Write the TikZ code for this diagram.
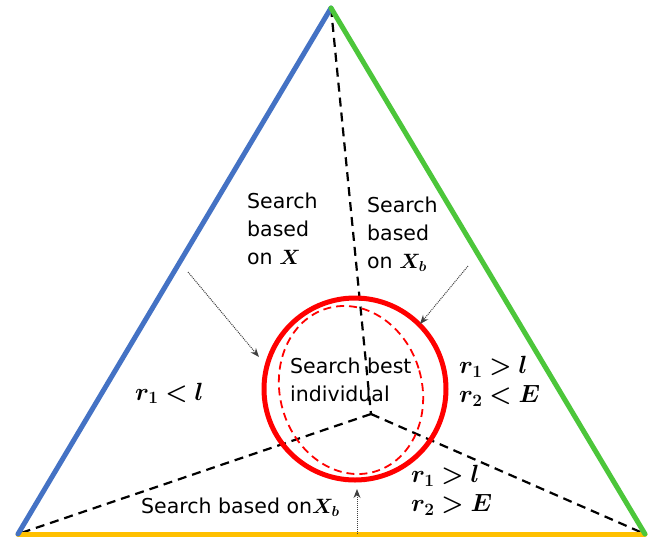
\documentclass[tikz,border=0pt]{standalone}
\usepackage{fontspec}
\usepackage{bm}
\setmainfont{Open Sans}
\newfontfamily\labfont{DejaVu Sans}
\usetikzlibrary{arrows.meta}
\definecolor{triblue}{HTML}{4472C4}
\definecolor{trigreen}{HTML}{4CC63A}
\definecolor{triyellow}{HTML}{FFC000}
\definecolor{cred}{HTML}{FF0000}
\tikzset{
  side/.style={line width=5pt, line cap=round},
  divider/.style={line width=2.2pt, dash pattern=on 9pt off 6pt},
  pointer/.style={line width=1pt, densely dotted, black!75, -{Stealth[length=9pt,width=7pt]}},
  lab/.style={font=\labfont\fontsize{20.5}{28}\selectfont, inner sep=0pt, align=left},
  mlab/.style={font=\fontsize{23}{29}\selectfont, inner sep=0pt, align=left},
}
\begin{document}
\begin{tikzpicture}[x=1pt,y=-1pt]
\useasboundingbox (0,0) rectangle (654,539);
% vertices
\coordinate (T) at (331,8);
\coordinate (BL) at (18,534);
\coordinate (BR) at (645,534);
\coordinate (C) at (371,414);
% dashed dividers
\draw[divider] (T) -- (C);
\draw[divider] (C) -- (BL);
\draw[divider] (C) -- (BR);
% circles
\draw[cred, line width=5pt] (355,389) circle[radius=91];
\draw[cred, line width=1.8pt, dash pattern=on 8pt off 5pt] (351,390) circle[x radius=71, y radius=85, rotate=16];
% sides
\draw[side, triyellow] (BL) -- (BR);
\draw[side, triblue] (BL) -- (T);
\draw[side, trigreen] (T) -- (BR);
% labels
\node[lab, anchor=north west] (sx) at (247,193) {Search\\based\\on $\bm{X}$};
\node[lab, anchor=north west] (sxb) at (367,197) {Search\\based\\on $\bm{X_b}$};
\node[lab, anchor=north west] (sbest) at (290,358) {Search best\\individual};
\node[lab, anchor=base west] (sbot) at (141,513) {Search based on$\bm{X_b}$};
\node[mlab, anchor=base west, font=\fontsize{24}{29}\selectfont] (m1) at (135,400) {$\bm{r_1<l}$};
\node[mlab, anchor=north west] (m2) at (459,356) {$\bm{r_1>l}$\\$\bm{r_2<E}$};
\node[mlab, anchor=north west] (m3) at (411,465) {$\bm{r_1>l}$\\$\bm{r_2>E}$};
% pointers
\coordinate (a1s) at (188,272);
\coordinate (a1e) at (259,357);
\coordinate (a2s) at (468,266);
\coordinate (a2e) at (420,324);
\coordinate (a3s) at (357,534);
\coordinate (a3e) at (357,489);
\draw[pointer] (a1s) -- (a1e);
\draw[pointer] (a2s) -- (a2e);
\draw[pointer] (a3s) -- (a3e);
\end{tikzpicture}
\end{document}
